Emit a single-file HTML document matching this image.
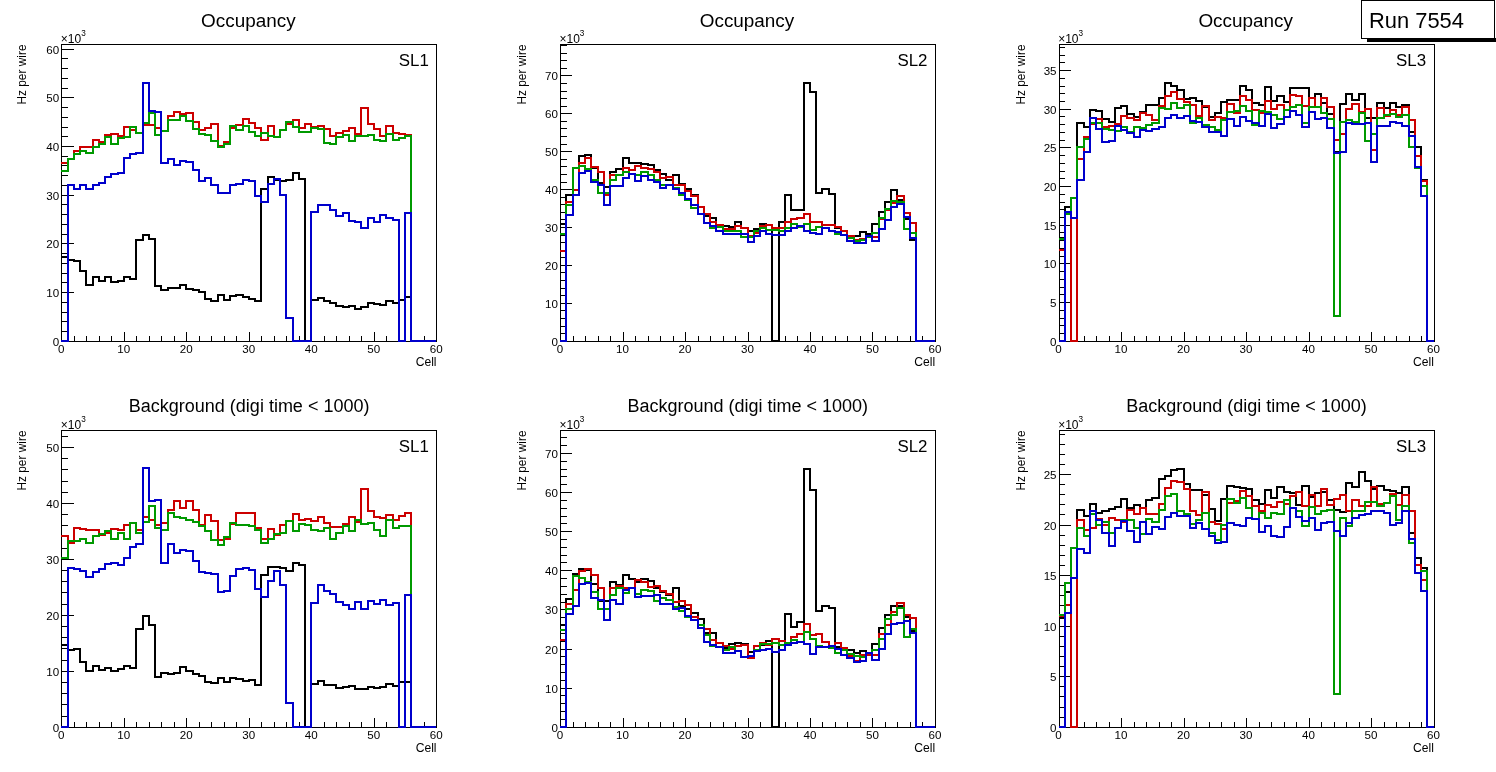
<!DOCTYPE html>
<html><head><meta charset="utf-8"><title>Run 7554</title>
<style>
html,body{margin:0;padding:0;background:#fff;}
body{width:1496px;height:772px;overflow:hidden;}
svg{display:block;}
text{font-family:"Liberation Sans",Arial,Helvetica,sans-serif;fill:#000;}
.lb{font-size:11.6px;}
.ex{font-size:12px;}
.at{font-size:12.1px;}
.yt{font-size:11.9px;}
.sl{font-size:16.9px;}
.ti{}
.run{font-size:21.9px;}
path,rect{shape-rendering:crispEdges;}
</style></head><body>
<svg width="1496" height="772" viewBox="0 0 1496 772">
<rect x="0" y="0" width="1496" height="772" fill="#fff" stroke="none"/>
<g>
<rect x="61.5" y="44.5" width="375" height="297" fill="none" stroke="#000" stroke-width="1"/>
<path d="M61.5 342V332M74.5 342V336M86.5 342V336M99.5 342V336M111.5 342V336M124.5 342V332M136.5 342V336M149.5 342V336M161.5 342V336M174.5 342V336M186.5 342V332M199.5 342V336M211.5 342V336M224.5 342V336M236.5 342V336M249.5 342V332M261.5 342V336M274.5 342V336M286.5 342V336M299.5 342V336M311.5 342V332M324.5 342V336M336.5 342V336M349.5 342V336M361.5 342V336M374.5 342V332M386.5 342V336M399.5 342V336M411.5 342V336M424.5 342V336M436.5 342V332M61 341.5H74M61 331.5H68M61 321.5H68M61 312.5H68M61 302.5H68M61 292.5H74M61 282.5H68M61 273.5H68M61 263.5H68M61 253.5H68M61 243.5H74M61 234.5H68M61 224.5H68M61 214.5H68M61 204.5H68M61 195.5H74M61 185.5H68M61 175.5H68M61 165.5H68M61 156.5H68M61 146.5H74M61 136.5H68M61 127.5H68M61 117.5H68M61 107.5H68M61 97.5H74M61 88.5H68M61 78.5H68M61 68.5H68M61 58.5H68M61 49.5H74" stroke="#000" stroke-width="1" fill="none"/>
<path d="M61 257H68V260H74V261H80V271H86V285H93V277H99V281H105V277H111V282H118V281H124V277H130V279H136V240H143V235H149V239H155V286H161V290H168V288H174V288H180V285H186V289H193V290H199V292H205V299H211V301H218V295H224V300H230V296H236V295H243V297H249V299H255V301H261V189H268V177H274V180H280V181H286V180H293V173H299V179H305V341H311V300H318V298H324V301H330V303H336V306H343V307H349V306H355V309H361V307H368V303H374V304H380V305H386V301H393V303H399V300H405V297H411V341H418V341H424V341H430V341H436" fill="none" stroke="#000000" stroke-width="2" stroke-linejoin="miter"/>
<path d="M61 163H68V159H74V151H80V147H86V147H93V140H99V142H105V135H111V134H118V136H124V127H130V130H136V133H143V125H149V125H155V128H161V131H168V116H174V112H180V114H186V113H193V122H199V130H205V128H211V124H218V146H224V142H230V128H236V125H243V119H249V123H255V128H261V140H268V126H274V137H280V130H286V124H293V120H299V128H305V124H311V127H318V126H324V129H330V136H336V133H343V131H349V128H355V134H361V108H368V124H374V129H380V136H386V126H393V133H399V134H405V135H411V341H418V341H424V341H430V341H436" fill="none" stroke="#cc0000" stroke-width="2" stroke-linejoin="miter"/>
<path d="M61 171H68V159H74V154H80V151H86V153H93V147H99V144H105V137H111V144H118V138H124V137H130V127H136V133H143V123H149V113H155V135H161V131H168V120H174V120H180V116H186V121H193V129H199V134H205V135H211V141H218V147H224V144H230V126H236V130H243V126H249V132H255V136H261V133H268V136H274V137H280V130H286V122H293V127H299V132H305V132H311V128H318V129H324V143H330V144H336V137H343V135H349V141H355V136H361V136H368V135H374V140H380V141H386V134H393V140H399V138H405V136H411V341H418V341H424V341H430V341H436" fill="none" stroke="#009900" stroke-width="2" stroke-linejoin="miter"/>
<path d="M61 341H68V185H74V189H80V185H86V189H93V185H99V183H105V177H111V174H118V173H124V158H130V154H136V153H143V83H149V111H155V112H161V163H168V159H174V165H180V161H186V162H193V170H199V181H205V178H211V185H218V193H224V193H230V185H236V184H243V180H249V181H255V196H261V202H268V184H274V179H280V195H286V318H293V341H299V341H305V341H311V212H318V205H324V205H330V210H336V216H343V213H349V221H355V222H361V228H368V218H374V222H380V215H386V218H393V220H399V341H405V213H411V341H418V341H424V341H430V341H436" fill="none" stroke="#0000cc" stroke-width="2" stroke-linejoin="miter"/>
<text x="61.23" y="353.02" text-anchor="middle" class="lb">0</text>
<text x="123.73" y="353.02" text-anchor="middle" class="lb">10</text>
<text x="186.23" y="353.02" text-anchor="middle" class="lb">20</text>
<text x="248.73" y="353.02" text-anchor="middle" class="lb">30</text>
<text x="311.23" y="353.02" text-anchor="middle" class="lb">40</text>
<text x="373.73" y="353.02" text-anchor="middle" class="lb">50</text>
<text x="436.23" y="353.02" text-anchor="middle" class="lb">60</text>
<text x="59.23" y="345.8" text-anchor="end" class="lb">0</text>
<text x="59.23" y="296.8" text-anchor="end" class="lb">10</text>
<text x="59.23" y="247.8" text-anchor="end" class="lb">20</text>
<text x="59.23" y="199.8" text-anchor="end" class="lb">30</text>
<text x="59.23" y="150.8" text-anchor="end" class="lb">40</text>
<text x="59.23" y="101.8" text-anchor="end" class="lb">50</text>
<text x="59.23" y="53.8" text-anchor="end" class="lb">60</text>
<text x="60.83" y="42.98" class="ex">×10<tspan dy="-6.6" font-size="8.2">3</tspan></text>
<text x="436.53" y="365.92" text-anchor="end" class="at">Cell</text>
<text transform="translate(25.9 44.48) rotate(-90)" text-anchor="end" class="yt">Hz per wire</text>
<text x="428.83" y="66.18" text-anchor="end" class="sl">SL1</text>
<text x="248.33" y="26.72" text-anchor="middle" class="ti" font-size="18.9">Occupancy</text>
</g>
<g>
<rect x="560.5" y="44.5" width="375" height="297" fill="none" stroke="#000" stroke-width="1"/>
<path d="M560.5 342V332M573.5 342V336M585.5 342V336M598.5 342V336M610.5 342V336M623.5 342V332M635.5 342V336M648.5 342V336M660.5 342V336M673.5 342V336M685.5 342V332M698.5 342V336M710.5 342V336M723.5 342V336M735.5 342V336M748.5 342V332M760.5 342V336M772.5 342V336M785.5 342V336M797.5 342V336M810.5 342V332M822.5 342V336M835.5 342V336M847.5 342V336M860.5 342V336M872.5 342V332M885.5 342V336M897.5 342V336M910.5 342V336M922.5 342V336M935.5 342V332M560 341.5H572M560 333.5H567M560 326.5H567M560 318.5H567M560 310.5H567M560 303.5H572M560 295.5H567M560 288.5H567M560 280.5H567M560 272.5H567M560 265.5H572M560 257.5H567M560 250.5H567M560 242.5H567M560 235.5H567M560 227.5H572M560 219.5H567M560 212.5H567M560 204.5H567M560 197.5H567M560 189.5H572M560 182.5H567M560 174.5H567M560 166.5H567M560 159.5H567M560 151.5H572M560 144.5H567M560 136.5H567M560 128.5H567M560 121.5H567M560 113.5H572M560 106.5H567M560 98.5H567M560 91.5H567M560 83.5H567M560 75.5H572M560 68.5H567M560 60.5H567M560 53.5H567M560 45.5H567" stroke="#000" stroke-width="1" fill="none"/>
<path d="M560 224H566V195H573V190H579V156H585V155H591V168H598V183H604V187H610V172H616V169H623V158H629V163H635V163H641V164H648V165H654V170H660V174H666V180H673V175H679V184H685V189H691V195H698V207H704V216H710V218H716V225H723V226H729V227H735V222H741V228H748V231H754V229H760V224H766V225H772V341H779V222H785V195H791V210H797V210H804V83H810V92H816V193H822V189H829V194H835V228H841V231H847V236H854V236H860V232H866V234H872V224H879V212H885V202H891V190H897V200H904V219H910V240H916V341H922V341H929V341H935" fill="none" stroke="#000000" stroke-width="2" stroke-linejoin="miter"/>
<path d="M560 251H566V202H573V190H579V163H585V158H591V167H598V172H604V195H610V175H616V175H623V168H629V170H635V166H641V168H648V169H654V172H660V178H666V177H673V185H679V185H685V191H691V196H698V207H704V214H710V222H716V225H723V229H729V229H735V226H741V228H748V236H754V233H760V226H766V225H772V228H779V228H785V222H791V219H797V218H804V214H810V222H816V222H822V225H829V225H835V227H841V231H847V236H854V240H860V239H866V236H872V237H879V219H885V210H891V203H897V196H904V213H910V223H916V341H922V341H929V341H935" fill="none" stroke="#cc0000" stroke-width="2" stroke-linejoin="miter"/>
<path d="M560 234H566V205H573V168H579V166H585V169H591V180H598V193H604V193H610V180H616V175H623V172H629V174H635V175H641V172H648V175H654V180H660V185H666V185H673V188H679V195H685V200H691V208H698V214H704V223H710V228H716V227H723V231H729V231H735V231H741V237H748V237H754V231H760V228H766V230H772V230H779V231H785V228H791V224H797V227H804V224H810V230H816V227H822V228H829V231H835V234H841V235H847V238H854V241H860V240H866V237H872V233H879V218H885V209H891V201H897V202H904V229H910V233H916V341H922V341H929V341H935" fill="none" stroke="#009900" stroke-width="2" stroke-linejoin="miter"/>
<path d="M560 341H566V215H573V195H579V173H585V171H591V182H598V185H604V205H610V186H616V186H623V178H629V174H635V181H641V176H648V180H654V182H660V188H666V185H673V189H679V193H685V199H691V205H698V214H704V223H710V226H716V231H723V234H729V234H735V234H741V234H748V242H754V236H760V231H766V234H772V235H779V235H785V231H791V228H797V226H804V231H810V233H816V234H822V228H829V231H835V232H841V235H847V241H854V243H860V243H866V236H872V241H879V229H885V220H891V207H897V204H904V217H910V238H916V341H922V341H929V341H935" fill="none" stroke="#0000cc" stroke-width="2" stroke-linejoin="miter"/>
<text x="559.9" y="353.02" text-anchor="middle" class="lb">0</text>
<text x="622.4" y="353.02" text-anchor="middle" class="lb">10</text>
<text x="684.9" y="353.02" text-anchor="middle" class="lb">20</text>
<text x="747.4" y="353.02" text-anchor="middle" class="lb">30</text>
<text x="809.9" y="353.02" text-anchor="middle" class="lb">40</text>
<text x="872.4" y="353.02" text-anchor="middle" class="lb">50</text>
<text x="934.9" y="353.02" text-anchor="middle" class="lb">60</text>
<text x="557.9" y="345.8" text-anchor="end" class="lb">0</text>
<text x="557.9" y="307.8" text-anchor="end" class="lb">10</text>
<text x="557.9" y="269.8" text-anchor="end" class="lb">20</text>
<text x="557.9" y="231.8" text-anchor="end" class="lb">30</text>
<text x="557.9" y="193.8" text-anchor="end" class="lb">40</text>
<text x="557.9" y="155.8" text-anchor="end" class="lb">50</text>
<text x="557.9" y="117.8" text-anchor="end" class="lb">60</text>
<text x="557.9" y="79.8" text-anchor="end" class="lb">70</text>
<text x="559.5" y="42.98" class="ex">×10<tspan dy="-6.6" font-size="8.2">3</tspan></text>
<text x="935.2" y="365.92" text-anchor="end" class="at">Cell</text>
<text transform="translate(525.9 44.48) rotate(-90)" text-anchor="end" class="yt">Hz per wire</text>
<text x="927.5" y="66.18" text-anchor="end" class="sl">SL2</text>
<text x="747" y="26.72" text-anchor="middle" class="ti" font-size="18.9">Occupancy</text>
</g>
<g>
<rect x="1059.5" y="44.5" width="375" height="297" fill="none" stroke="#000" stroke-width="1"/>
<path d="M1059.5 342V332M1071.5 342V336M1084.5 342V336M1096.5 342V336M1109.5 342V336M1121.5 342V332M1134.5 342V336M1146.5 342V336M1159.5 342V336M1171.5 342V336M1184.5 342V332M1196.5 342V336M1209.5 342V336M1221.5 342V336M1234.5 342V336M1246.5 342V332M1259.5 342V336M1271.5 342V336M1284.5 342V336M1296.5 342V336M1309.5 342V332M1321.5 342V336M1334.5 342V336M1346.5 342V336M1359.5 342V336M1371.5 342V332M1384.5 342V336M1396.5 342V336M1409.5 342V336M1421.5 342V336M1434.5 342V332M1059 341.5H1071M1059 333.5H1065M1059 325.5H1065M1059 318.5H1065M1059 310.5H1065M1059 302.5H1071M1059 294.5H1065M1059 287.5H1065M1059 279.5H1065M1059 271.5H1065M1059 263.5H1071M1059 256.5H1065M1059 248.5H1065M1059 240.5H1065M1059 232.5H1065M1059 225.5H1071M1059 217.5H1065M1059 209.5H1065M1059 202.5H1065M1059 194.5H1065M1059 186.5H1071M1059 178.5H1065M1059 171.5H1065M1059 163.5H1065M1059 155.5H1065M1059 147.5H1071M1059 140.5H1065M1059 132.5H1065M1059 124.5H1065M1059 116.5H1065M1059 109.5H1071M1059 101.5H1065M1059 93.5H1065M1059 86.5H1065M1059 78.5H1065M1059 70.5H1071M1059 62.5H1065M1059 55.5H1065M1059 47.5H1065" stroke="#000" stroke-width="1" fill="none"/>
<path d="M1059 238H1065V207H1071V198H1077V123H1084V127H1090V110H1096V111H1102V119H1109V122H1115V108H1121V106H1127V114H1134V117H1140V112H1146V105H1152V105H1159V98H1165V83H1171V86H1177V90H1184V99H1190V98H1196V101H1202V107H1209V117H1215V113H1221V102H1227V100H1234V100H1240V86H1246V90H1252V103H1259V105H1265V87H1271V101H1277V96H1284V102H1290V88H1296V88H1302V88H1309V98H1315V94H1321V103H1327V114H1334V152H1340V104H1346V94H1352V100H1359V94H1365V118H1371V118H1377V103H1384V108H1390V103H1396V107H1402V105H1409V132H1415V147H1421V180H1427V341H1434" fill="none" stroke="#000000" stroke-width="2" stroke-linejoin="miter"/>
<path d="M1059 250H1065V212H1071V341H1077V159H1084V137H1090V124H1096V119H1102V127H1109V126H1115V124H1121V116H1127V118H1134V120H1140V113H1146V115H1152V120H1159V106H1165V96H1171V92H1177V99H1184V102H1190V105H1196V116H1202V106H1209V120H1215V117H1221V118H1227V104H1234V113H1240V96H1246V100H1252V110H1259V113H1265V101H1271V109H1277V105H1284V110H1290V95H1296V96H1302V106H1309V98H1315V107H1321V98H1327V107H1334V140H1340V134H1346V109H1352V104H1359V112H1365V109H1371V150H1377V108H1384V116H1390V110H1396V115H1402V107H1409V120H1415V156H1421V181H1427V341H1434" fill="none" stroke="#cc0000" stroke-width="2" stroke-linejoin="miter"/>
<path d="M1059 239H1065V214H1071V198H1077V147H1084V139H1090V123H1096V123H1102V129H1109V130H1115V131H1121V127H1127V132H1134V127H1140V128H1146V125H1152V123H1159V108H1165V109H1171V103H1177V108H1184V105H1190V123H1196V118H1202V125H1209V127H1215V130H1221V120H1227V112H1234V111H1240V106H1246V111H1252V125H1259V111H1265V112H1271V115H1277V119H1284V110H1290V107H1296V105H1302V123H1309V107H1315V107H1321V113H1327V119H1334V316H1340V122H1346V120H1352V122H1359V113H1365V141H1371V134H1377V118H1384V115H1390V114H1396V117H1402V115H1409V147H1415V168H1421V186H1427V341H1434" fill="none" stroke="#009900" stroke-width="2" stroke-linejoin="miter"/>
<path d="M1059 341H1065V212H1071V218H1077V180H1084V152H1090V118H1096V129H1102V142H1109V141H1115V126H1121V130H1127V133H1134V137H1140V130H1146V131H1152V129H1159V127H1165V118H1171V115H1177V118H1184V116H1190V121H1196V122H1202V127H1209V132H1215V132H1221V136H1227V119H1234V126H1240V117H1246V121H1252V123H1259V126H1265V114H1271V128H1277V124H1284V117H1290V111H1296V115H1302V127H1309V112H1315V119H1321V118H1327V128H1334V153H1340V152H1346V123H1352V124H1359V124H1365V123H1371V162H1377V126H1384V126H1390V122H1396V123H1402V126H1409V136H1415V167H1421V196H1427V341H1434" fill="none" stroke="#0000cc" stroke-width="2" stroke-linejoin="miter"/>
<text x="1058.57" y="353.02" text-anchor="middle" class="lb">0</text>
<text x="1121.07" y="353.02" text-anchor="middle" class="lb">10</text>
<text x="1183.57" y="353.02" text-anchor="middle" class="lb">20</text>
<text x="1246.07" y="353.02" text-anchor="middle" class="lb">30</text>
<text x="1308.57" y="353.02" text-anchor="middle" class="lb">40</text>
<text x="1371.07" y="353.02" text-anchor="middle" class="lb">50</text>
<text x="1433.57" y="353.02" text-anchor="middle" class="lb">60</text>
<text x="1056.57" y="345.8" text-anchor="end" class="lb">0</text>
<text x="1056.57" y="306.8" text-anchor="end" class="lb">5</text>
<text x="1056.57" y="267.8" text-anchor="end" class="lb">10</text>
<text x="1056.57" y="229.8" text-anchor="end" class="lb">15</text>
<text x="1056.57" y="190.8" text-anchor="end" class="lb">20</text>
<text x="1056.57" y="151.8" text-anchor="end" class="lb">25</text>
<text x="1056.57" y="113.8" text-anchor="end" class="lb">30</text>
<text x="1056.57" y="74.8" text-anchor="end" class="lb">35</text>
<text x="1058.17" y="42.98" class="ex">×10<tspan dy="-6.6" font-size="8.2">3</tspan></text>
<text x="1433.87" y="365.92" text-anchor="end" class="at">Cell</text>
<text transform="translate(1024.9 44.48) rotate(-90)" text-anchor="end" class="yt">Hz per wire</text>
<text x="1426.17" y="66.18" text-anchor="end" class="sl">SL3</text>
<text x="1245.67" y="26.72" text-anchor="middle" class="ti" font-size="18.9">Occupancy</text>
</g>
<g>
<rect x="61.5" y="430.5" width="375" height="297" fill="none" stroke="#000" stroke-width="1"/>
<path d="M61.5 728V718M74.5 728V722M86.5 728V722M99.5 728V722M111.5 728V722M124.5 728V718M136.5 728V722M149.5 728V722M161.5 728V722M174.5 728V722M186.5 728V718M199.5 728V722M211.5 728V722M224.5 728V722M236.5 728V722M249.5 728V718M261.5 728V722M274.5 728V722M286.5 728V722M299.5 728V722M311.5 728V718M324.5 728V722M336.5 728V722M349.5 728V722M361.5 728V722M374.5 728V718M386.5 728V722M399.5 728V722M411.5 728V722M424.5 728V722M436.5 728V718M61 727.5H74M61 716.5H68M61 704.5H68M61 693.5H68M61 682.5H68M61 671.5H74M61 660.5H68M61 648.5H68M61 637.5H68M61 626.5H68M61 615.5H74M61 604.5H68M61 592.5H68M61 581.5H68M61 570.5H68M61 559.5H74M61 548.5H68M61 536.5H68M61 525.5H68M61 514.5H68M61 503.5H74M61 492.5H68M61 481.5H68M61 469.5H68M61 458.5H68M61 447.5H74M61 436.5H68" stroke="#000" stroke-width="1" fill="none"/>
<path d="M61 645H68V650H74V649H80V662H86V671H93V666H99V670H105V668H111V671H118V669H124V666H130V668H136V629H143V616H149V625H155V677H161V673H168V674H174V673H180V667H186V671H193V674H199V676H205V682H211V683H218V678H224V682H230V678H236V679H243V681H249V680H255V685H261V575H268V567H274V567H280V568H286V571H293V563H299V565H305V727H311V684H318V681H324V685H330V685H336V688H343V687H349V686H355V689H361V689H368V687H374V688H380V687H386V684H393V686H399V682H405V682H411V727H418V727H424V727H430V727H436" fill="none" stroke="#000000" stroke-width="2" stroke-linejoin="miter"/>
<path d="M61 536H68V543H74V528H80V529H86V530H93V530H99V535H105V533H111V529H118V530H124V525H130V523H136V530H143V517H149V520H155V525H161V523H168V510H174V501H180V508H186V501H193V510H199V525H205V515H211V521H218V540H224V539H230V524H236V513H243V513H249V513H255V528H261V539H268V529H274V535H280V525H286V521H293V514H299V520H305V519H311V521H318V517H324V523H330V527H336V527H343V524H349V517H355V522H361V489H368V511H374V517H380V518H386V515H393V520H399V516H405V513H411V727H418V727H424V727H430V727H436" fill="none" stroke="#cc0000" stroke-width="2" stroke-linejoin="miter"/>
<path d="M61 558H68V541H74V541H80V539H86V543H93V536H99V534H105V531H111V539H118V533H124V539H130V523H136V533H143V522H149V506H155V528H161V530H168V513H174V517H180V518H186V520H193V522H199V526H205V531H211V540H218V545H224V537H230V523H236V525H243V525H249V526H255V530H261V543H268V539H274V534H280V533H286V521H293V531H299V524H305V525H311V530H318V531H324V528H330V539H336V533H343V526H349V531H355V520H361V524H368V523H374V530H380V536H386V520H393V528H399V526H405V526H411V727H418V727H424V727H430V727H436" fill="none" stroke="#009900" stroke-width="2" stroke-linejoin="miter"/>
<path d="M61 727H68V568H74V569H80V571H86V577H93V572H99V569H105V564H111V563H118V565H124V558H130V547H136V544H143V468H149V501H155V500H161V563H168V544H174V553H180V550H186V551H193V561H199V572H205V573H211V574H218V592H224V591H230V576H236V569H243V568H249V570H255V589H261V597H268V581H274V571H280V585H286V703H293V727H299V727H305V727H311V603H318V585H324V591H330V594H336V602H343V605H349V609H355V602H361V609H368V601H374V604H380V600H386V605H393V603H399V727H405V595H411V727H418V727H424V727H430V727H436" fill="none" stroke="#0000cc" stroke-width="2" stroke-linejoin="miter"/>
<text x="61.23" y="739.02" text-anchor="middle" class="lb">0</text>
<text x="123.73" y="739.02" text-anchor="middle" class="lb">10</text>
<text x="186.23" y="739.02" text-anchor="middle" class="lb">20</text>
<text x="248.73" y="739.02" text-anchor="middle" class="lb">30</text>
<text x="311.23" y="739.02" text-anchor="middle" class="lb">40</text>
<text x="373.73" y="739.02" text-anchor="middle" class="lb">50</text>
<text x="436.23" y="739.02" text-anchor="middle" class="lb">60</text>
<text x="59.23" y="731.8" text-anchor="end" class="lb">0</text>
<text x="59.23" y="675.8" text-anchor="end" class="lb">10</text>
<text x="59.23" y="619.8" text-anchor="end" class="lb">20</text>
<text x="59.23" y="563.8" text-anchor="end" class="lb">30</text>
<text x="59.23" y="507.8" text-anchor="end" class="lb">40</text>
<text x="59.23" y="451.8" text-anchor="end" class="lb">50</text>
<text x="60.83" y="428.98" class="ex">×10<tspan dy="-6.6" font-size="8.2">3</tspan></text>
<text x="436.53" y="751.92" text-anchor="end" class="at">Cell</text>
<text transform="translate(25.9 430.48) rotate(-90)" text-anchor="end" class="yt">Hz per wire</text>
<text x="428.83" y="452.18" text-anchor="end" class="sl">SL1</text>
<text x="249.13" y="412.22" text-anchor="middle" class="ti" font-size="18.0">Background (digi time &lt; 1000)</text>
</g>
<g>
<rect x="560.5" y="430.5" width="375" height="297" fill="none" stroke="#000" stroke-width="1"/>
<path d="M560.5 728V718M573.5 728V722M585.5 728V722M598.5 728V722M610.5 728V722M623.5 728V718M635.5 728V722M648.5 728V722M660.5 728V722M673.5 728V722M685.5 728V718M698.5 728V722M710.5 728V722M723.5 728V722M735.5 728V722M748.5 728V718M760.5 728V722M772.5 728V722M785.5 728V722M797.5 728V722M810.5 728V718M822.5 728V722M835.5 728V722M847.5 728V722M860.5 728V722M872.5 728V718M885.5 728V722M897.5 728V722M910.5 728V722M922.5 728V722M935.5 728V718M560 727.5H572M560 719.5H567M560 711.5H567M560 703.5H567M560 695.5H567M560 688.5H572M560 680.5H567M560 672.5H567M560 664.5H567M560 656.5H567M560 649.5H572M560 641.5H567M560 633.5H567M560 625.5H567M560 617.5H567M560 609.5H572M560 602.5H567M560 594.5H567M560 586.5H567M560 578.5H567M560 570.5H572M560 562.5H567M560 555.5H567M560 547.5H567M560 539.5H567M560 531.5H572M560 523.5H567M560 516.5H567M560 508.5H567M560 500.5H567M560 492.5H572M560 484.5H567M560 476.5H567M560 469.5H567M560 461.5H567M560 453.5H572M560 445.5H567M560 437.5H567" stroke="#000" stroke-width="1" fill="none"/>
<path d="M560 625H566V599H573V574H579V569H585V570H591V584H598V601H604V601H610V582H616V585H623V575H629V579H635V582H641V579H648V581H654V588H660V592H666V595H673V588H679V606H685V609H691V613H698V619H704V633H710V633H716V647H723V648H729V644H735V643H741V644H748V652H754V646H760V645H766V641H772V727H779V641H785V614H791V627H797V622H804V469H810V490H816V611H822V606H829V608H835V647H841V648H847V650H854V653H860V651H866V653H872V644H879V628H885V615H891V606H897V606H904V617H910V631H916V727H922V727H929V727H935" fill="none" stroke="#000000" stroke-width="2" stroke-linejoin="miter"/>
<path d="M560 640H566V604H573V590H579V571H585V569H591V575H598V588H604V609H610V588H616V586H623V588H629V588H635V580H641V582H648V587H654V586H660V591H666V594H673V602H679V601H685V605H691V617H698V625H704V629H710V640H716V643H723V646H729V649H735V646H741V645H748V658H754V646H760V643H766V645H772V639H779V641H785V643H791V637H797V634H804V624H810V635H816V634H822V642H829V646H835V643H841V648H847V656H854V661H860V655H866V655H872V655H879V634H885V625H891V612H897V603H904V615H910V618H916V727H922V727H929V727H935" fill="none" stroke="#cc0000" stroke-width="2" stroke-linejoin="miter"/>
<path d="M560 630H566V609H573V576H579V578H585V582H591V592H598V609H604V609H610V595H616V588H623V593H629V588H635V594H641V590H648V591H654V601H660V598H666V600H673V607H679V611H685V617H691V620H698V625H704V635H710V646H716V647H723V650H729V647H735V651H741V657H748V656H754V650H760V644H766V644H772V643H779V645H785V643H791V640H797V642H804V632H810V639H816V646H822V647H829V648H835V653H841V650H847V654H854V656H860V657H866V653H872V650H879V639H885V619H891V615H897V608H904V637H910V629H916V727H922V727H929V727H935" fill="none" stroke="#009900" stroke-width="2" stroke-linejoin="miter"/>
<path d="M560 727H566V614H573V606H579V584H585V583H591V598H598V600H604V620H610V600H616V604H623V590H629V588H635V597H641V596H648V596H654V595H660V604H666V604H673V609H679V608H685V616H691V620H698V628H704V642H710V645H716V647H723V653H729V653H735V651H741V657H748V656H754V651H760V650H766V649H772V652H779V650H785V645H791V643H797V642H804V644H810V654H816V647H822V647H829V646H835V649H841V655H847V658H854V662H860V661H866V653H872V660H879V649H885V634H891V624H897V623H904V621H910V633H916V727H922V727H929V727H935" fill="none" stroke="#0000cc" stroke-width="2" stroke-linejoin="miter"/>
<text x="559.9" y="739.02" text-anchor="middle" class="lb">0</text>
<text x="622.4" y="739.02" text-anchor="middle" class="lb">10</text>
<text x="684.9" y="739.02" text-anchor="middle" class="lb">20</text>
<text x="747.4" y="739.02" text-anchor="middle" class="lb">30</text>
<text x="809.9" y="739.02" text-anchor="middle" class="lb">40</text>
<text x="872.4" y="739.02" text-anchor="middle" class="lb">50</text>
<text x="934.9" y="739.02" text-anchor="middle" class="lb">60</text>
<text x="557.9" y="731.8" text-anchor="end" class="lb">0</text>
<text x="557.9" y="692.8" text-anchor="end" class="lb">10</text>
<text x="557.9" y="653.8" text-anchor="end" class="lb">20</text>
<text x="557.9" y="613.8" text-anchor="end" class="lb">30</text>
<text x="557.9" y="574.8" text-anchor="end" class="lb">40</text>
<text x="557.9" y="535.8" text-anchor="end" class="lb">50</text>
<text x="557.9" y="496.8" text-anchor="end" class="lb">60</text>
<text x="557.9" y="457.8" text-anchor="end" class="lb">70</text>
<text x="559.5" y="428.98" class="ex">×10<tspan dy="-6.6" font-size="8.2">3</tspan></text>
<text x="935.2" y="751.92" text-anchor="end" class="at">Cell</text>
<text transform="translate(525.9 430.48) rotate(-90)" text-anchor="end" class="yt">Hz per wire</text>
<text x="927.5" y="452.18" text-anchor="end" class="sl">SL2</text>
<text x="747.8" y="412.22" text-anchor="middle" class="ti" font-size="18.0">Background (digi time &lt; 1000)</text>
</g>
<g>
<rect x="1059.5" y="430.5" width="375" height="297" fill="none" stroke="#000" stroke-width="1"/>
<path d="M1059.5 728V718M1071.5 728V722M1084.5 728V722M1096.5 728V722M1109.5 728V722M1121.5 728V718M1134.5 728V722M1146.5 728V722M1159.5 728V722M1171.5 728V722M1184.5 728V718M1196.5 728V722M1209.5 728V722M1221.5 728V722M1234.5 728V722M1246.5 728V718M1259.5 728V722M1271.5 728V722M1284.5 728V722M1296.5 728V722M1309.5 728V718M1321.5 728V722M1334.5 728V722M1346.5 728V722M1359.5 728V722M1371.5 728V718M1384.5 728V722M1396.5 728V722M1409.5 728V722M1421.5 728V722M1434.5 728V718M1059 727.5H1071M1059 717.5H1065M1059 707.5H1065M1059 696.5H1065M1059 686.5H1065M1059 676.5H1071M1059 666.5H1065M1059 656.5H1065M1059 646.5H1065M1059 636.5H1065M1059 626.5H1071M1059 616.5H1065M1059 605.5H1065M1059 595.5H1065M1059 585.5H1065M1059 575.5H1071M1059 565.5H1065M1059 555.5H1065M1059 545.5H1065M1059 535.5H1065M1059 525.5H1071M1059 514.5H1065M1059 504.5H1065M1059 494.5H1065M1059 484.5H1065M1059 474.5H1071M1059 464.5H1065M1059 454.5H1065M1059 444.5H1065M1059 434.5H1065" stroke="#000" stroke-width="1" fill="none"/>
<path d="M1059 618H1065V592H1071V548H1077V510H1084V516H1090V504H1096V513H1102V511H1109V509H1115V507H1121V499H1127V508H1134V505H1140V508H1146V500H1152V498H1159V479H1165V476H1171V470H1177V469H1184V484H1190V490H1196V490H1202V495H1209V509H1215V521H1221V499H1227V486H1234V487H1240V488H1246V489H1252V500H1259V504H1265V490H1271V498H1277V487H1284V492H1290V493H1296V505H1302V486H1309V497H1315V493H1321V492H1327V500H1334V510H1340V512H1346V483H1352V487H1359V472H1365V481H1371V489H1377V486H1384V490H1390V491H1396V493H1402V487H1409V533H1415V558H1421V568H1427V727H1434" fill="none" stroke="#000000" stroke-width="2" stroke-linejoin="miter"/>
<path d="M1059 616H1065V605H1071V727H1077V520H1084V530H1090V528H1096V519H1102V525H1109V518H1115V520H1121V522H1127V510H1134V514H1140V508H1146V514H1152V514H1159V504H1165V488H1171V481H1177V482H1184V489H1190V511H1196V515H1202V492H1209V522H1215V524H1221V529H1227V503H1234V501H1240V491H1246V496H1252V506H1259V511H1265V505H1271V507H1277V502H1284V504H1290V496H1296V492H1302V506H1309V495H1315V506H1321V489H1327V505H1334V499H1340V495H1346V511H1352V500H1359V506H1365V506H1371V487H1377V504H1384V503H1390V494H1396V505H1402V495H1409V511H1415V565H1421V580H1427V727H1434" fill="none" stroke="#cc0000" stroke-width="2" stroke-linejoin="miter"/>
<path d="M1059 615H1065V583H1071V548H1077V528H1084V536H1090V514H1096V525H1102V522H1109V533H1115V528H1121V520H1127V520H1134V528H1140V534H1146V519H1152V522H1159V510H1165V496H1171V494H1177V511H1184V514H1190V524H1196V520H1202V513H1209V533H1215V540H1221V525H1227V499H1234V503H1240V498H1246V508H1252V519H1259V513H1265V518H1271V513H1277V514H1284V500H1290V508H1296V511H1302V526H1309V507H1315V514H1321V511H1327V510H1334V694H1340V518H1346V526H1352V511H1359V511H1365V502H1371V502H1377V506H1384V503H1390V496H1396V520H1402V506H1409V543H1415V573H1421V571H1427V727H1434" fill="none" stroke="#009900" stroke-width="2" stroke-linejoin="miter"/>
<path d="M1059 727H1065V613H1071V578H1077V549H1084V553H1090V511H1096V520H1102V533H1109V546H1115V528H1121V521H1127V531H1134V542H1140V522H1146V534H1152V527H1159V529H1165V517H1171V513H1177V516H1184V516H1190V528H1196V523H1202V529H1209V536H1215V543H1221V542H1227V523H1234V525H1240V526H1246V518H1252V519H1259V532H1265V526H1271V536H1277V537H1284V527H1290V508H1296V517H1302V521H1309V518H1315V530H1321V523H1327V522H1334V531H1340V536H1346V523H1352V518H1359V515H1365V514H1371V511H1377V511H1384V513H1390V525H1396V523H1402V511H1409V539H1415V573H1421V591H1427V727H1434" fill="none" stroke="#0000cc" stroke-width="2" stroke-linejoin="miter"/>
<text x="1058.57" y="739.02" text-anchor="middle" class="lb">0</text>
<text x="1121.07" y="739.02" text-anchor="middle" class="lb">10</text>
<text x="1183.57" y="739.02" text-anchor="middle" class="lb">20</text>
<text x="1246.07" y="739.02" text-anchor="middle" class="lb">30</text>
<text x="1308.57" y="739.02" text-anchor="middle" class="lb">40</text>
<text x="1371.07" y="739.02" text-anchor="middle" class="lb">50</text>
<text x="1433.57" y="739.02" text-anchor="middle" class="lb">60</text>
<text x="1056.57" y="731.8" text-anchor="end" class="lb">0</text>
<text x="1056.57" y="680.8" text-anchor="end" class="lb">5</text>
<text x="1056.57" y="630.8" text-anchor="end" class="lb">10</text>
<text x="1056.57" y="579.8" text-anchor="end" class="lb">15</text>
<text x="1056.57" y="529.8" text-anchor="end" class="lb">20</text>
<text x="1056.57" y="478.8" text-anchor="end" class="lb">25</text>
<text x="1058.17" y="428.98" class="ex">×10<tspan dy="-6.6" font-size="8.2">3</tspan></text>
<text x="1433.87" y="751.92" text-anchor="end" class="at">Cell</text>
<text transform="translate(1024.9 430.48) rotate(-90)" text-anchor="end" class="yt">Hz per wire</text>
<text x="1426.17" y="452.18" text-anchor="end" class="sl">SL3</text>
<text x="1246.47" y="412.22" text-anchor="middle" class="ti" font-size="18.0">Background (digi time &lt; 1000)</text>
</g>
<rect x="1367" y="38" width="129" height="4" fill="#000" stroke="none"/>
<rect x="1361.5" y="0.5" width="133" height="38" fill="#fff" stroke="#000" stroke-width="1"/>
<text x="1369" y="28.2" class="run">Run 7554</text>
</svg></body></html>
